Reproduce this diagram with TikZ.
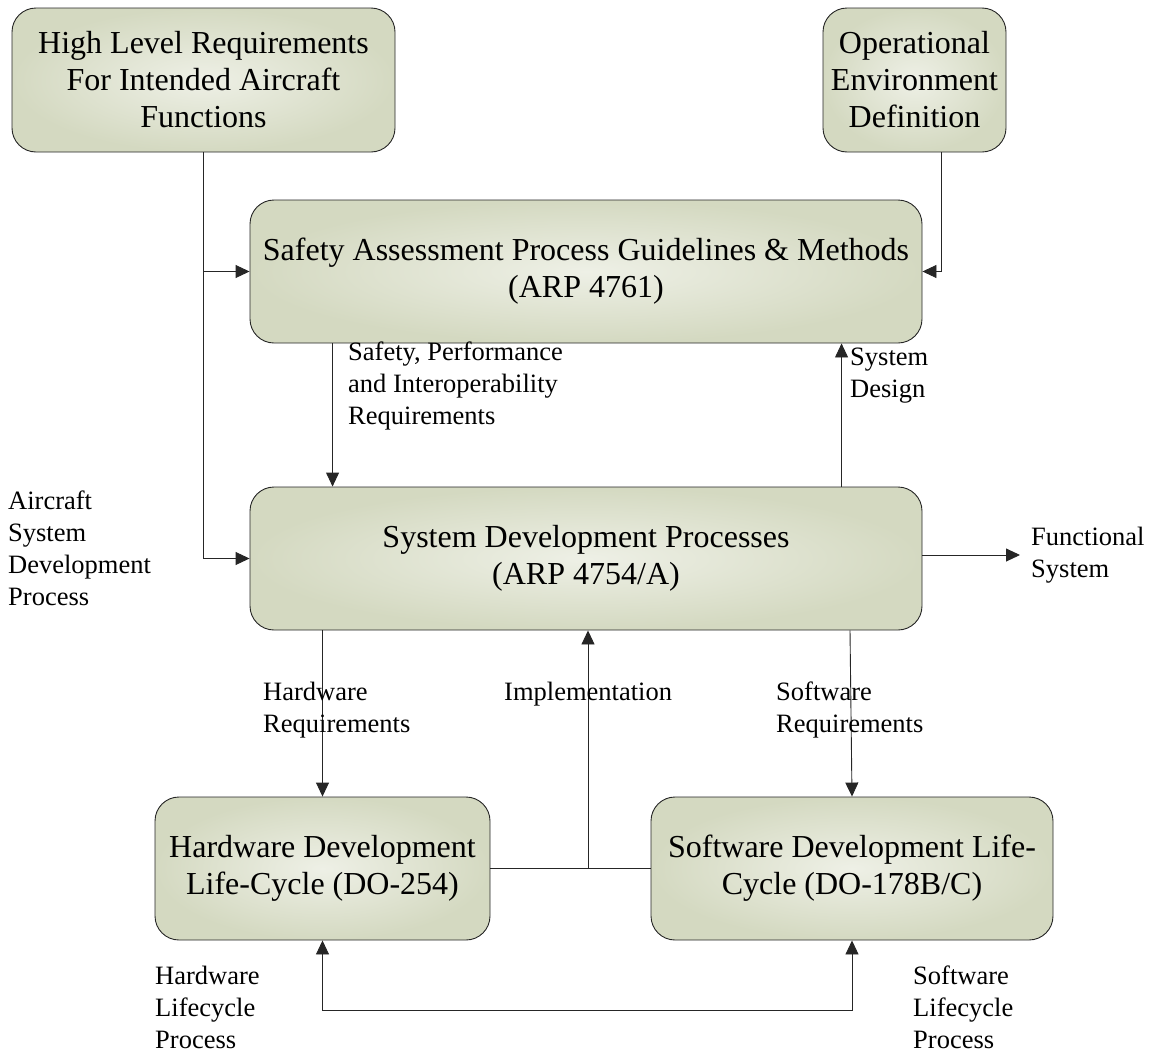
\documentclass[tikz,border=0pt]{standalone}
\usepackage{fontspec}
\setmainfont{Liberation Serif}
\usetikzlibrary{arrows.meta}
\definecolor{boxin}{HTML}{EEF0E6}
\definecolor{boxout}{HTML}{D4D9C1}

\tikzset{
  box/.style={draw=black!85, line width=0.9pt, rounded corners=24pt,
    inner color=boxin, outer color=boxout, align=center,
    font=\fontsize{32}{37}\selectfont, inner sep=0pt},
  lbl/.style={anchor=west, align=left, font=\fontsize{26.5}{32}\selectfont, inner sep=0pt},
  conn/.style={draw=black!85, line width=0.9pt},
  tip/.tip={Triangle[length=14pt,width=13pt]},
  arr/.style={conn, -tip},
}

\begin{document}
\begin{tikzpicture}[x=1pt, y=-1pt]
  \useasboundingbox (0,0) rectangle (1150,1055);

  % process boxes
  \node[box, minimum width=383pt, minimum height=144pt] (hlr) at (203.5,80)
    {High Level Requirements\\For Intended Aircraft\\Functions};
  \node[box, minimum width=183pt, minimum height=144pt] (oed) at (914.5,80)
    {Operational\\Environment\\Definition};
  \node[box, minimum width=672pt, minimum height=143pt] (sap) at (586,271.5)
    {Safety Assessment Process Guidelines \& Methods\\(ARP 4761)};
  \node[box, minimum width=672pt, minimum height=143pt] (sdp) at (586,558.5)
    {System Development Processes\\(ARP 4754/A)};
  \node[box, minimum width=335pt, minimum height=143pt] (hw) at (322.5,868.5)
    {Hardware Development\\Life-Cycle (DO-254)};
  \node[box, minimum width=402pt, minimum height=143pt] (sw) at (852,868.5)
    {Software Development Life-\\Cycle (DO-178B/C)};

  % free ends of connectors
  \coordinate (oedout) at (941,152);
  \coordinate (fs) at (1020,555);

  % connectors
  \draw[arr] (hlr.south) |- (sap.west);
  \draw[arr] (hlr.south) |- (sdp.west);
  \draw[arr] (oedout) |- (sap.east);
  \draw[arr] ([xshift=83pt]sap.south west) -- ([xshift=83pt]sdp.north west);
  \draw[arr] ([xshift=592pt]sdp.north west) -- ([xshift=592pt]sap.south west);
  \draw[arr] (sdp.east |- fs) -- (fs);
  \draw[arr] (hw.north |- sdp.south) -- (hw.north);
  \draw[arr] ([xshift=-2pt]sw.north |- sdp.south) -- (sw.north);
  \draw[conn] (hw.east) -- (sw.west);
  \draw[arr] ([xshift=2pt]sdp.south |- hw.east) -- ([xshift=2pt]sdp.south);
  \draw[conn, tip-tip] (hw.south) -- ++(0,70) -| (sw.south);

  % connector labels
  \node[lbl] (l1) at (348,386) {Safety, Performance\\and Interoperability\\Requirements};
  \node[lbl] (l2) at (850,376) {System\\Design};
  \node[lbl] (l3) at (8,548.5) {Aircraft\\System\\Development\\Process};
  \node[lbl] (l4) at (1031,555) {Functional\\System};
  \node[lbl] (l5) at (263,710) {Hardware\\Requirements};
  \node[lbl] (l6) at (504,694) {Implementation};
  \node[lbl] (l7) at (776,710) {Software\\Requirements};
  \node[lbl] (l8) at (155,1007.5) {Hardware\\Lifecycle\\Process};
  \node[lbl] (l9) at (913,1007.5) {Software\\Lifecycle\\Process};
\end{tikzpicture}
\end{document}
